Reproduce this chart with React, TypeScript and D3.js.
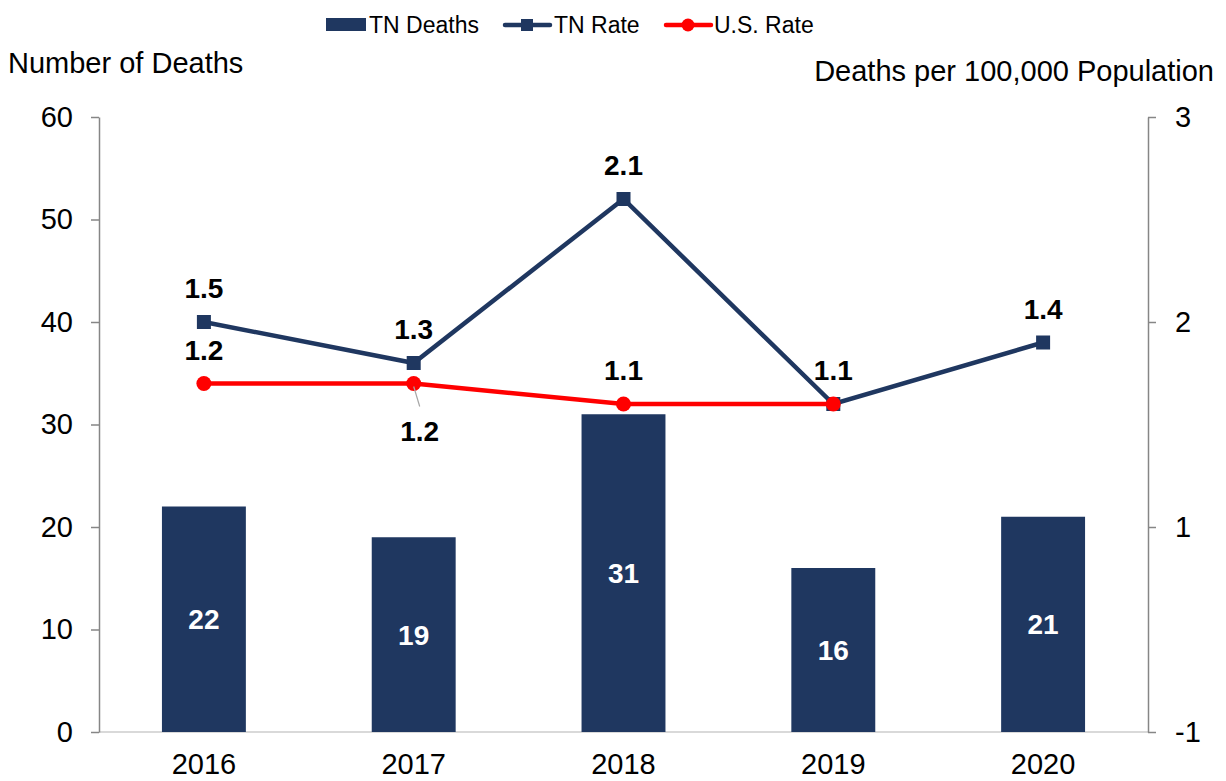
import { useEffect, useRef } from "react";
import * as d3 from "d3";

const years = ["2016", "2017", "2018", "2019", "2020"];
const tnDeaths = [22, 19, 31, 16, 21];
const tnRate = [1.5, 1.3, 2.1, 1.1, 1.4];
const usRate = [1.2, 1.2, 1.1, 1.1]; // no 2020 value
const leftTicks = [0, 10, 20, 30, 40, 50, 60];
const rightTicks = [2.5, 1.5, 0.5, -0.5];
const rightTickLabels = ["3", "2", "1", "-1"];

const NAVY = "#1f3760";
const RED = "#ff0000";
const FONT = "'Liberation Sans', Arial, sans-serif";
const FS = 29;

export default function App() {
  const ref = useRef<SVGSVGElement>(null);

  useEffect(() => {
    const svg = d3.select(ref.current);
    svg.selectAll("*").remove();
    const W = 1226, H = 781;
    const margin = { top: 117, right: 78, bottom: 49, left: 99 };
    const x0 = margin.left, x1 = W - margin.right;
    const y0 = H - margin.bottom, y1 = margin.top;

    const x = d3.scaleBand().domain(years).range([x0, x1]).paddingInner(0.6).paddingOuter(0.3);
    const y = d3.scaleLinear().domain([0, 60]).range([y0, y1]);
    const yr = d3.scaleLinear().domain([-0.5, 2.5]).range([y0, y1]);
    const cx = (d: string) => (x(d) as number) + x.bandwidth() / 2;

    // baseline
    svg.append("line").attr("x1", x0).attr("x2", x1).attr("y1", y0).attr("y2", y0)
      .attr("stroke", "#d9d9d9").attr("stroke-width", 2);

    // left axis
    const gl = svg.append("g").attr("transform", `translate(${x0},0)`)
      .call(d3.axisLeft(y).tickValues(leftTicks).tickSize(8).tickSizeOuter(0).tickPadding(18));
    gl.selectAll("path,line").attr("stroke", "#868686").attr("stroke-width", 1.5);
    gl.selectAll("text").attr("font-family", FONT).attr("font-size", FS).attr("fill", "#000");

    // right axis
    const gr = svg.append("g").attr("transform", `translate(${x1},0)`)
      .call(d3.axisRight(yr).tickValues(rightTicks).tickSize(8).tickSizeOuter(0).tickPadding(19)
        .tickFormat((_d, i) => rightTickLabels[i]));
    gr.selectAll("path,line").attr("stroke", "#868686").attr("stroke-width", 1.5);
    gr.selectAll("text").attr("font-family", FONT).attr("font-size", FS).attr("fill", "#000");

    // x labels
    svg.append("g").selectAll("text").data(years).join("text")
      .attr("x", d => cx(d)).attr("y", 774).attr("text-anchor", "middle")
      .attr("font-family", FONT).attr("font-size", FS).text(d => d);

    // bars
    svg.append("g").selectAll("rect").data(tnDeaths).join("rect")
      .attr("x", (_d, i) => x(years[i]) as number).attr("width", x.bandwidth())
      .attr("y", d => y(d)).attr("height", d => y0 - y(d)).attr("fill", NAVY);
    svg.append("g").selectAll("text").data(tnDeaths).join("text")
      .attr("x", (_d, i) => cx(years[i])).attr("y", d => (y(d) + y0) / 2 + 10)
      .attr("text-anchor", "middle").attr("fill", "#fff").attr("font-weight", "bold")
      .attr("font-family", FONT).attr("font-size", FS - 1).text(d => d);

    // lines
    const lineFn = d3.line<number>().x((_d, i) => cx(years[i])).y(d => yr(d));
    svg.append("path").datum(tnRate).attr("d", lineFn).attr("fill", "none")
      .attr("stroke", NAVY).attr("stroke-width", 4.5);
    svg.append("g").selectAll("rect").data(tnRate).join("rect")
      .attr("x", (_d, i) => cx(years[i]) - 7).attr("y", d => yr(d) - 7)
      .attr("width", 14).attr("height", 14).attr("fill", NAVY);
    svg.append("path").datum(usRate).attr("d", lineFn).attr("fill", "none")
      .attr("stroke", RED).attr("stroke-width", 4.5);
    svg.append("g").selectAll("circle").data(usRate).join("circle")
      .attr("cx", (_d, i) => cx(years[i])).attr("cy", d => yr(d)).attr("r", 7.5).attr("fill", RED);

    // rate labels
    const label = (px: number, py: number, t: string) =>
      svg.append("text").attr("x", px).attr("y", py).attr("text-anchor", "middle")
        .attr("font-weight", "bold").attr("font-family", FONT).attr("font-size", FS - 1).text(t);
    tnRate.forEach((v, i) => label(cx(years[i]), yr(v) - 24, v.toFixed(1)));
    usRate.forEach((v, i) => {
      if (i === 3) return; // hidden behind TN label
      if (i === 1) {
        svg.append("line").attr("x1", cx(years[i])).attr("y1", yr(v) + 3)
          .attr("x2", cx(years[i]) + 6).attr("y2", yr(v) + 23).attr("stroke", "#a6a6a6").attr("stroke-width", 1.2);
        label(cx(years[i]) + 6, yr(v) + 57, v.toFixed(1));
      } else {
        label(cx(years[i]), yr(v) - 24, v.toFixed(1));
      }
    });

    // axis titles
    svg.append("text").attr("x", 8).attr("y", 73).attr("font-family", FONT).attr("font-size", FS)
      .text("Number of Deaths");
    svg.append("text").attr("x", 1214).attr("y", 81).attr("text-anchor", "end")
      .attr("font-family", FONT).attr("font-size", FS).text("Deaths per 100,000 Population");

    // legend
    const lg = svg.append("g").attr("font-family", FONT).attr("font-size", 23);
    lg.append("rect").attr("x", 326).attr("y", 18).attr("width", 40).attr("height", 13).attr("fill", NAVY);
    lg.append("text").attr("x", 369).attr("y", 33).text("TN Deaths");
    lg.append("line").attr("x1", 505).attr("x2", 550).attr("y1", 25).attr("y2", 25)
      .attr("stroke", NAVY).attr("stroke-width", 4.5).attr("stroke-linecap", "round");
    lg.append("rect").attr("x", 521).attr("y", 19).attr("width", 12).attr("height", 12).attr("fill", NAVY);
    lg.append("text").attr("x", 554).attr("y", 33).text("TN Rate");
    lg.append("line").attr("x1", 666).attr("x2", 711).attr("y1", 25).attr("y2", 25)
      .attr("stroke", RED).attr("stroke-width", 4.5).attr("stroke-linecap", "round");
    lg.append("circle").attr("cx", 688).attr("cy", 25).attr("r", 6.5).attr("fill", RED);
    lg.append("text").attr("x", 714).attr("y", 33).text("U.S. Rate");
  }, []);

  return (
    <svg ref={ref} width={1226} height={781}
      style={{ position: "absolute", left: 0, top: 0, background: "#fff" }} />
  );
}
